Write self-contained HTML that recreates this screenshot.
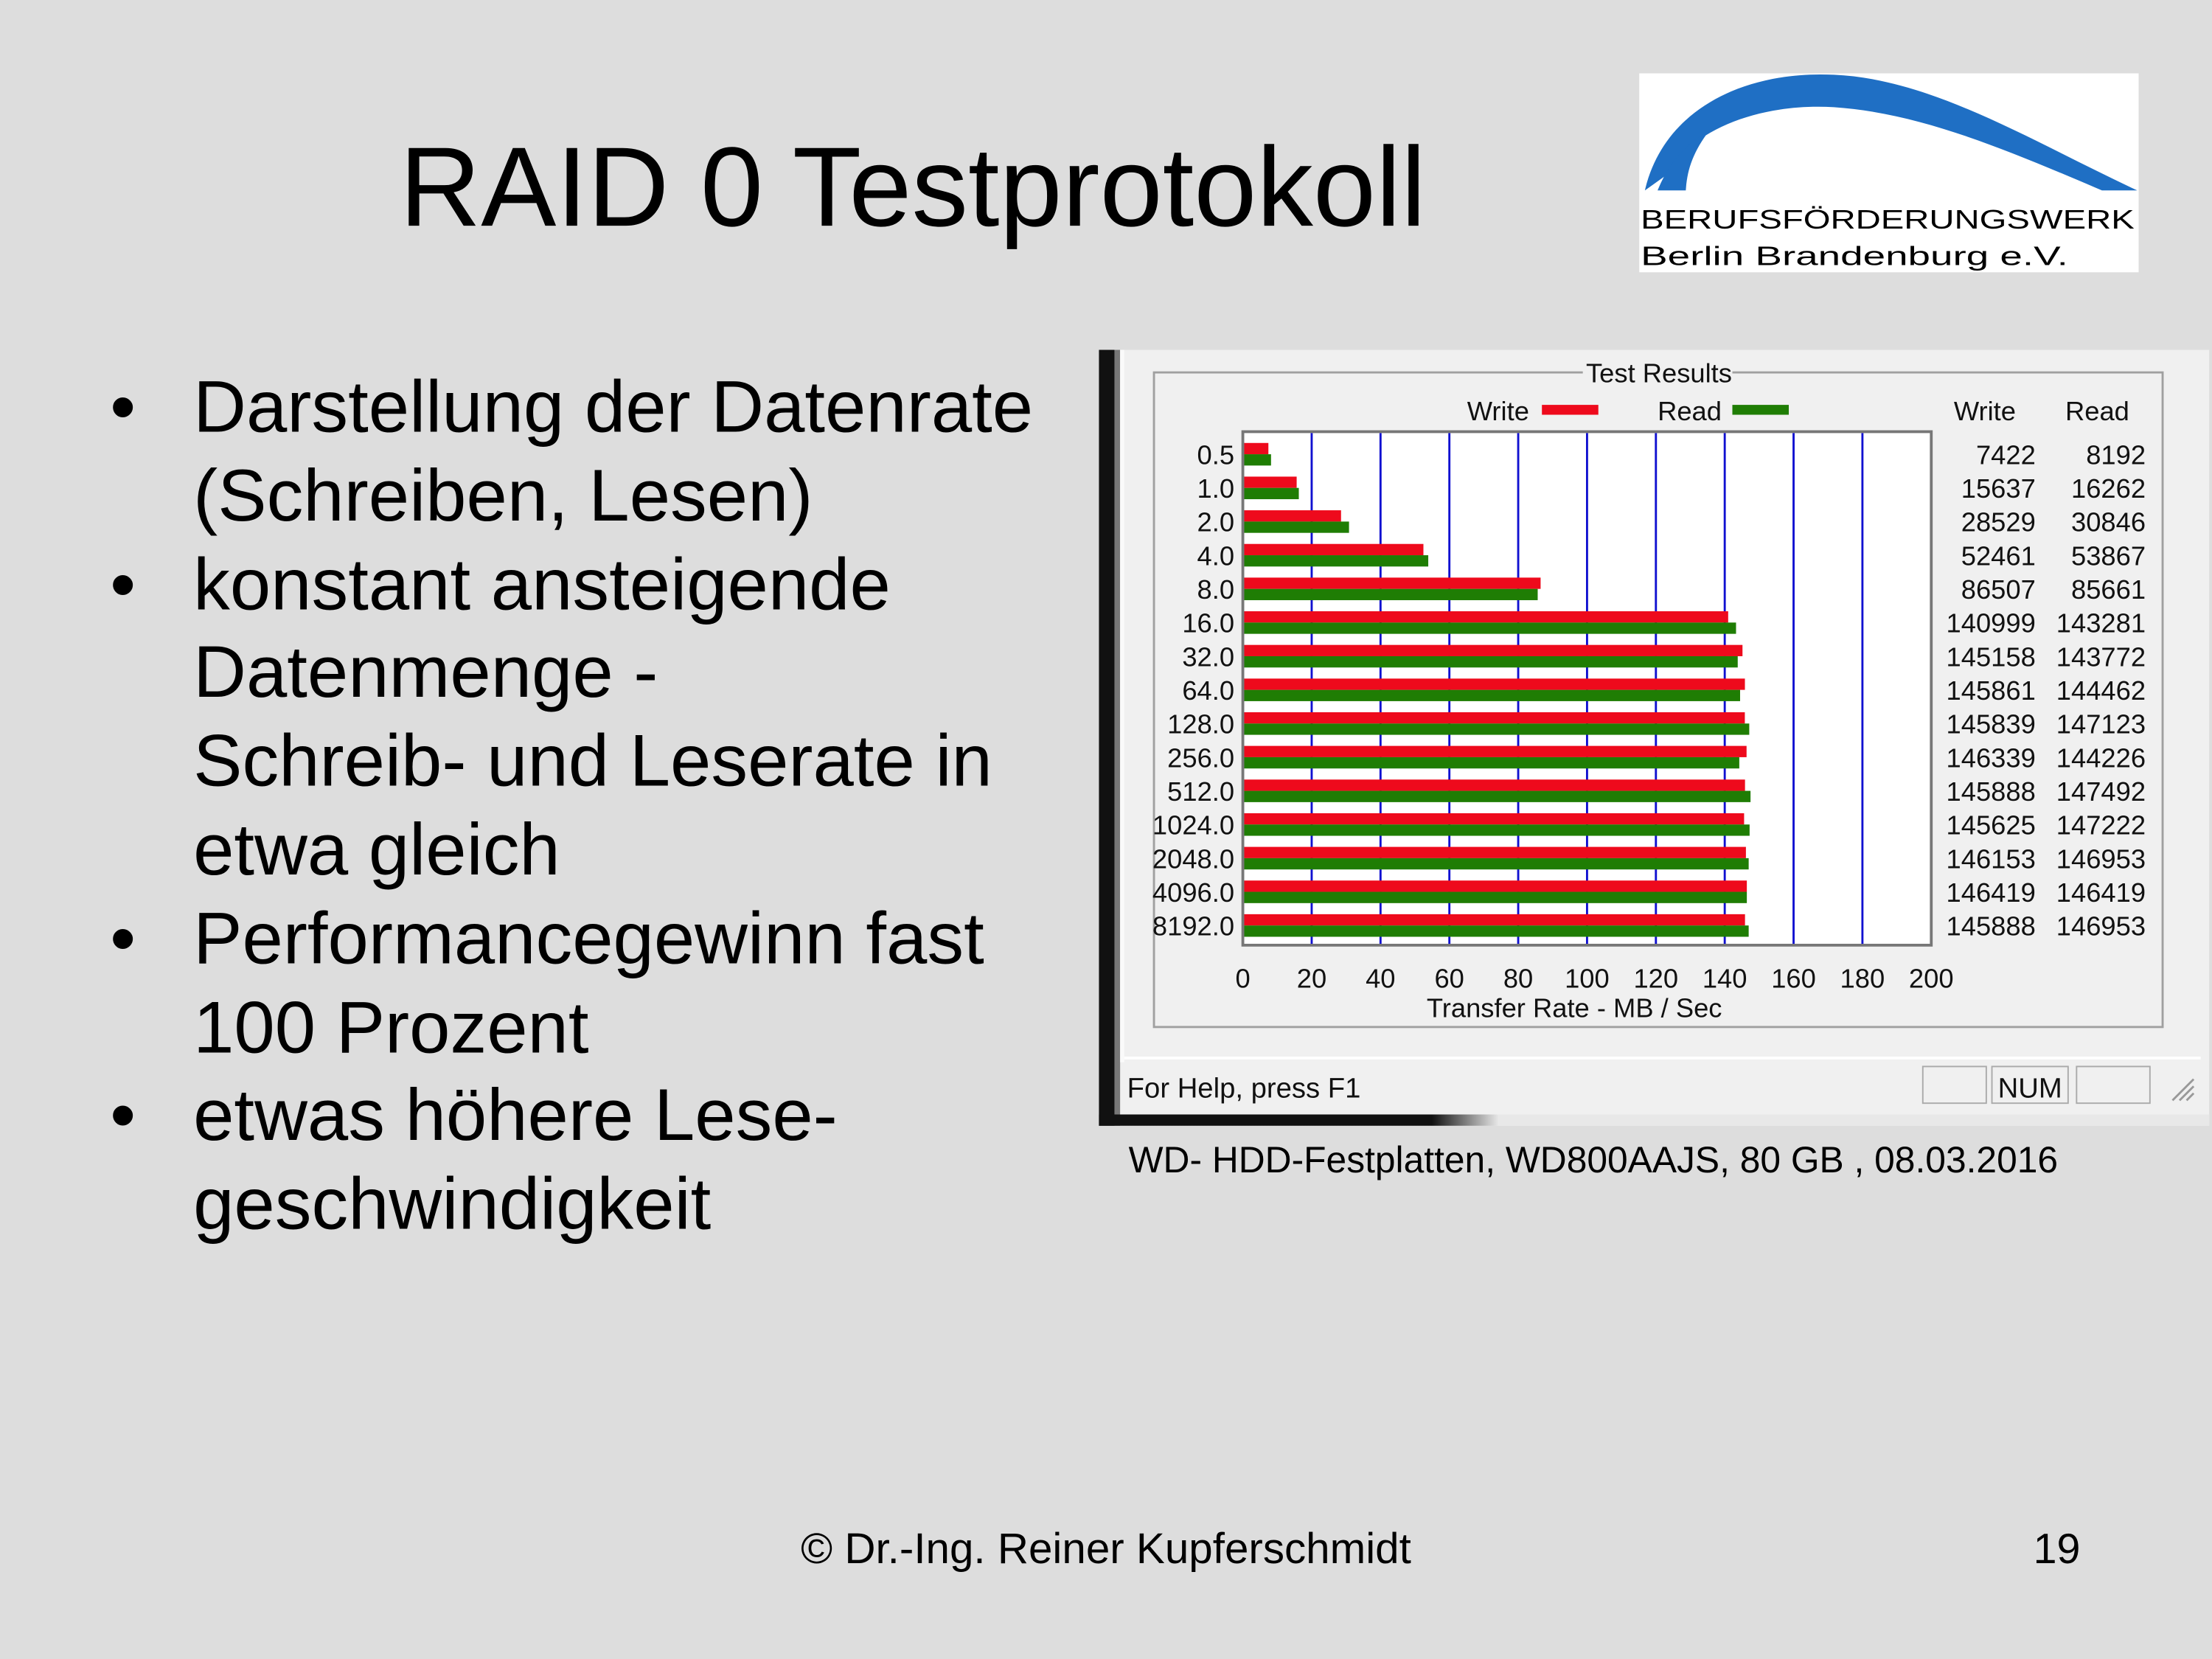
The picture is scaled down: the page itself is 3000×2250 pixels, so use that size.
<!DOCTYPE html>
<html><head><meta charset="utf-8">
<style>
html,body{margin:0;padding:0;background:#dddddd;}
svg{display:block;}
.sl{font-family:"Liberation Sans",sans-serif;fill:#000;}
.win{font-family:"Liberation Sans Narrow","Liberation Sans",sans-serif;fill:#111;}
</style></head>
<body>
<svg id="slide" width="3000" height="2250" viewBox="0 0 1568 1176" preserveAspectRatio="none" xmlns="http://www.w3.org/2000/svg">
<rect width="1568" height="1176" fill="#dddddd"/>
<text class="sl" x="647" y="160" font-size="80" text-anchor="middle">RAID 0 Testprotokoll</text>

<g>
<rect x="1162" y="52" width="354" height="141" fill="#ffffff"/>
<path d="M1166 135 C1180 75,1240 50,1300 53 C1370 56,1440 100,1515 135 L1490 135 C1420 105,1360 80,1300 76 C1250 73,1200 90,1180 125 Z" fill="#1f6fc4"/>
<path d="M1175 135 C1182 118,1192 104,1212 92 C1200 108,1196 120,1195 135 Z" fill="#1f6fc4"/>
<text class="sl" x="1163" y="162" font-size="19" fill="#444" font-family="DejaVu Sans Mono" textLength="350" lengthAdjust="spacingAndGlyphs">BERUFSFÖRDERUNGSWERK</text>
<text class="sl" x="1163" y="188" font-size="19" fill="#444" font-family="DejaVu Sans Mono" textLength="303" lengthAdjust="spacingAndGlyphs">Berlin Brandenburg e.V.</text>
</g>

<g class="sl" font-size="52">
<text x="78" y="306">•</text><text x="137" y="306">Darstellung der Datenrate</text>
<text x="137" y="369">(Schreiben, Lesen)</text>
<text x="78" y="432">•</text><text x="137" y="432">konstant ansteigende</text>
<text x="137" y="494">Datenmenge -</text>
<text x="137" y="557">Schreib- und Leserate in</text>
<text x="137" y="620">etwa gleich</text>
<text x="78" y="683">•</text><text x="137" y="683">Performancegewinn fast</text>
<text x="137" y="746">100 Prozent</text>
<text x="78" y="808">•</text><text x="137" y="808">etwas höhere Lese-</text>
<text x="137" y="871">geschwindigkeit</text>
</g>

<g>
<rect x="779" y="248" width="787" height="550" fill="#f0f0f0"/>
<rect x="779" y="248" width="11" height="550" fill="#111"/>
<rect x="790" y="248" width="4" height="550" fill="#777"/>
<rect x="794" y="248" width="3" height="505" fill="#fafafa"/>
<defs><linearGradient id="bg" x1="0" x2="1"><stop offset="0" stop-color="#111"/><stop offset="0.3" stop-color="#111"/><stop offset="0.36" stop-color="#e8e8e8"/><stop offset="1" stop-color="#e8e8e8"/></linearGradient></defs>
<rect x="779" y="790" width="787" height="8" fill="url(#bg)"/>
<rect x="818" y="264" width="715" height="464" fill="none" stroke="#a0a0a0" stroke-width="1.5"/>
<rect x="1122" y="256" width="106" height="16" fill="#f0f0f0"/>
<text class="win" x="1176" y="271" font-size="19" text-anchor="middle">Test Results</text>
<text class="win" x="1040" y="298" font-size="19">Write</text>
<rect x="1093" y="287" width="40" height="7" fill="#ee0a1c"/>
<text class="win" x="1175" y="298" font-size="19">Read</text>
<rect x="1228" y="287" width="40" height="7" fill="#1f7d04"/>
<text class="win" x="1385" y="298" font-size="19">Write</text>
<text class="win" x="1464" y="298" font-size="19">Read</text>
<rect x="881" y="306" width="488" height="364" fill="#fff" stroke="#777" stroke-width="2"/>
<g id="grid"></g>
<g id="bars"></g>
<g id="labels"></g>
<text class="win" x="1116" y="721" font-size="19" text-anchor="middle">Transfer Rate - MB / Sec</text>
<g>
<line x1="797" y1="750" x2="1560" y2="750" stroke="#fff" stroke-width="2"/>
<text class="win" x="799" y="778" font-size="20">For Help, press F1</text>
<rect x="1363" y="756" width="45" height="26" fill="none" stroke="#aaa"/>
<rect x="1412" y="756" width="54" height="26" fill="none" stroke="#aaa"/>
<text class="win" x="1439" y="778" font-size="20" text-anchor="middle">NUM</text>
<rect x="1472" y="756" width="52" height="26" fill="none" stroke="#aaa"/>
<path d="M1540 780 L1555 765 M1545 780 L1555 770 M1550 780 L1555 775" stroke="#999" stroke-width="1.5"/>
</g>
</g>

<text class="sl" x="800" y="831" font-size="26">WD- HDD-Festplatten, WD800AAJS, 80 GB , 08.03.2016</text>
<text class="sl" x="784" y="1108" font-size="30.5" text-anchor="middle">© Dr.-Ing. Reiner Kupferschmidt</text>
<text class="sl" x="1458" y="1108" font-size="30" text-anchor="middle">19</text>
</svg>
<script>
const categories = ["0.5","1.0","2.0","4.0","8.0","16.0","32.0","64.0","128.0","256.0","512.0","1024.0","2048.0","4096.0","8192.0"];
const writeValues = [7422,15637,28529,52461,86507,140999,145158,145861,145839,146339,145888,145625,146153,146419,145888];
const readValues = [8192,16262,30846,53867,85661,143281,143772,144462,147123,144226,147492,147222,146953,146419,146953];
const xTicks = [0,20,40,60,80,100,120,140,160,180,200];

const NS = "http://www.w3.org/2000/svg";
const px0 = 881, pw = 488, py0 = 306, ph = 364;
const xMax = 200;
function xScale(mb){ return px0 + mb / xMax * pw; }
const firstRow = 322, rowStep = 23.86;
function yCenter(i){ return firstRow + rowStep * i; }
function mk(tag, attrs, parent){ const e = document.createElementNS(NS, tag); for (const k in attrs) e.setAttribute(k, attrs[k]); parent.appendChild(e); return e; }

const grid = document.getElementById('grid');
const bars = document.getElementById('bars');
const labels = document.getElementById('labels');

xTicks.forEach(function(t){
  const x = xScale(t);
  if (t > 0 && t < xMax) {
    const g = mk('line', {x1:x, x2:x, y1:py0+1, y2:py0+ph-1, stroke:'#1010d0', 'stroke-width':1.5}, grid);
    
    
  }
  const tl = mk('text', {x:x, y:700, 'font-size':19, 'text-anchor':'middle', class:'win'}, labels);
  tl.textContent = t;
  
  
});

categories.forEach(function(c, i){
  const yc = yCenter(i);
  const w = mk('rect', {x:px0+1, y:yc-8, width:xScale(writeValues[i]/1000)-px0-1, height:8, fill:'#ee0a1c'}, bars);
  
  
  const r = mk('rect', {x:px0+1, y:yc, width:xScale(readValues[i]/1000)-px0-1, height:8, fill:'#1f7d04'}, bars);
  
  
  const cl = mk('text', {x:875, y:yc+7, 'font-size':19, 'text-anchor':'end', class:'win'}, labels);
  cl.textContent = c;
  
  
  const wv = mk('text', {x:1443, y:yc+7, 'font-size':19, 'text-anchor':'end', class:'win'}, labels);
  wv.textContent = writeValues[i];
  
  
  const rv = mk('text', {x:1521, y:yc+7, 'font-size':19, 'text-anchor':'end', class:'win'}, labels);
  rv.textContent = readValues[i];
  
  
});
</script>
</body></html>
